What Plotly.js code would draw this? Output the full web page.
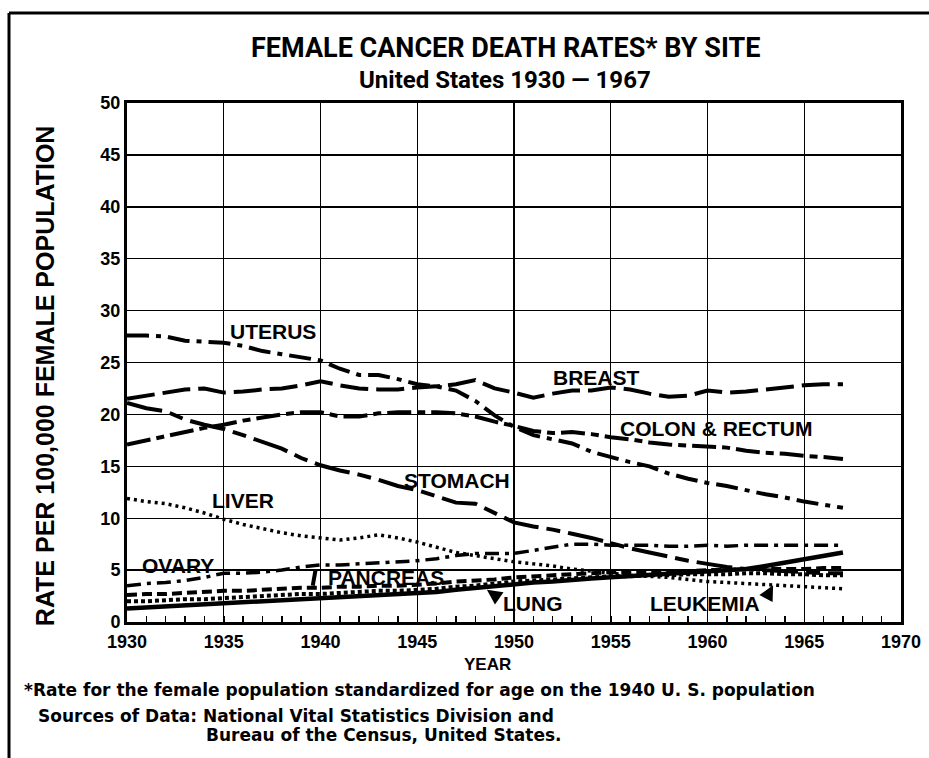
<!DOCTYPE html>
<html>
<head>
<meta charset="utf-8">
<script src="https://cdn.plot.ly/plotly-3.0.1.min.js"></script>
<style>html,body{margin:0;padding:0;background:#fff;}#chart{width:929px;height:758px;}</style>
</head>
<body>
<div id="chart"></div>
<script>
// ---------------- data ----------------
const years = [1930,1931,1932,1933,1934,1935,1936,1937,1938,1939,
               1940,1941,1942,1943,1944,1945,1946,1947,1948,1949,
               1950,1951,1952,1953,1954,1955,1956,1957,1958,1959,
               1960,1961,1962,1963,1964,1965,1966,1967];
const uterus   = [27.6,27.6,27.5,27.1,27.0,26.9,26.6,26.1,25.8,25.5,
                  25.2,24.4,23.8,23.8,23.4,22.9,22.7,22.3,21.3,19.9,
                  18.8,18.0,17.6,17.2,16.4,15.9,15.4,15.0,14.3,13.8,
                  13.4,13.1,12.7,12.3,12.0,11.6,11.3,11.0];
const breast   = [21.5,21.8,22.1,22.4,22.5,22.1,22.2,22.4,22.5,22.8,
                  23.2,22.8,22.5,22.4,22.4,22.6,22.7,22.9,23.3,22.5,
                  22.1,21.6,22.0,22.3,22.3,22.6,22.4,22.0,21.7,21.8,
                  22.3,22.1,22.2,22.4,22.6,22.8,22.9,22.9];
const colon    = [17.1,17.5,17.9,18.3,18.7,19.0,19.4,19.7,20.0,20.2,
                  20.2,19.8,19.8,20.1,20.2,20.2,20.2,20.1,19.8,19.3,
                  18.9,18.4,18.2,18.3,18.1,17.8,17.6,17.3,17.1,17.0,
                  16.9,16.8,16.5,16.3,16.2,16.0,15.9,15.7];
const stomach  = [21.1,20.6,20.3,19.5,19.0,18.6,18.0,17.4,16.7,15.8,
                  15.1,14.6,14.2,13.7,13.1,12.7,12.1,11.5,11.4,10.5,
                  9.6,9.2,8.9,8.5,8.1,7.6,7.1,6.7,6.3,5.9,
                  5.6,5.3,5.1,5.0,4.9,4.8,4.7,4.7];
const liver    = [11.9,11.6,11.4,11.0,10.5,9.9,9.4,9.0,8.6,8.3,
                  8.1,7.9,8.1,8.4,8.1,7.7,7.2,6.7,6.4,6.1,
                  5.8,5.6,5.4,5.1,4.9,4.7,4.5,4.4,4.3,4.1,
                  3.9,3.8,3.7,3.6,3.5,3.4,3.3,3.2];
const ovary    = [3.5,3.7,3.8,4.0,4.3,4.7,4.7,4.8,5.0,5.3,
                  5.5,5.5,5.6,5.7,5.8,5.9,6.1,6.4,6.6,6.6,
                  6.6,6.9,7.2,7.5,7.5,7.4,7.4,7.4,7.3,7.3,
                  7.4,7.3,7.4,7.4,7.4,7.4,7.4,7.4];
const pancreas = [2.6,2.7,2.7,2.8,2.9,3.0,3.0,3.1,3.2,3.3,
                  3.3,3.4,3.4,3.5,3.5,3.6,3.7,3.9,4.0,4.1,
                  4.3,4.4,4.5,4.6,4.7,4.8,4.8,4.8,4.9,4.9,
                  5.0,5.0,5.1,5.1,5.1,5.1,5.2,5.2];
const lung     = [1.3,1.4,1.5,1.5,1.6,1.7,1.9,2.0,2.1,2.1,
                  2.2,2.3,2.4,2.5,2.6,2.8,2.9,3.1,3.3,3.5,
                  3.7,3.8,3.9,4.1,4.2,4.3,4.4,4.5,4.6,4.7,
                  4.8,4.9,5.1,5.4,5.7,6.0,6.4,6.7];
const leukemia = [2.0,2.0,2.1,2.2,2.2,2.3,2.4,2.5,2.6,2.7,
                  2.7,2.8,2.9,3.0,3.0,3.1,3.2,3.4,3.5,3.7,
                  3.9,4.0,4.1,4.2,4.3,4.4,4.4,4.5,4.5,4.6,
                  4.6,4.6,4.7,4.7,4.6,4.6,4.5,4.5];
const xTicks = [1930,1935,1940,1945,1950,1955,1960,1965,1970];
const yTicks = [0,5,10,15,20,25,30,35,40,45,50];

// ---------------- styling ----------------
const BOLD = 'Liberation Sans, Arial, sans-serif';
const TITLEF = 'Roboto, Liberation Sans, Arial, sans-serif';
const WIDE = 'DejaVu Sans, Liberation Sans, Arial, sans-serif';

function line(y, name, dash, width) {
  return {x: years, y: y, name: name, type: 'scatter', mode: 'lines',
          line: {color: '#000', width: width, dash: dash}, hoverinfo: 'skip'};
}
const traces = [
  line(liver,    'Liver',          '3px,4px', 3.5),
  line(leukemia, 'Leukemia',       '4px,3px', 4),
  line(pancreas, 'Pancreas',       '10px,5px', 4),
  line(lung,     'Lung',           'solid', 4.5),
  line(ovary,    'Ovary',          '14px,6px,4px,6px', 3.5),
  line(stomach,  'Stomach',        '36px,8px,14px,8px', 4),
  line(colon,    'Colon & Rectum', '24px,6px,8px,6px', 4),
  line(breast,   'Breast',         '28px,8px', 4),
  line(uterus,   'Uterus',         '22px,7px,5px,7px', 4)
];

// plot area in pixels
const L = 127, R = 901, T = 103, B = 621.7;
const px = v => (v - L) / (R - L);
const py = v => (B - v) / (B - T);

function txt(text, xp, yp, size, family, extra) {
  return Object.assign({text: text, xref: 'paper', yref: 'paper', x: px(xp), y: py(yp),
    xanchor: 'center', yanchor: 'middle', showarrow: false,
    font: {family: family, size: size, color: '#000', weight: 700}}, extra || {});
}
function lab(text, xv, yv) {
  return {text: text, xref: 'x', yref: 'y', x: xv, y: yv, xanchor: 'center', yanchor: 'middle',
    showarrow: false, font: {family: BOLD, size: 21, color: '#000', weight: 700}};
}
function arrow(xv, yv, ax, ay, head, w) {
  return {text: '', xref: 'x', yref: 'y', x: xv, y: yv, ax: ax, ay: ay, showarrow: true,
    arrowhead: head, arrowsize: 1, arrowwidth: w, arrowcolor: '#000'};
}

const annotations = [
  txt('FEMALE CANCER DEATH RATES* BY SITE', 505, 48, 27, TITLEF),
  txt('United States 1930 \u2014 1967', 505, 80, 24, TITLEF),
  txt('RATE PER 100,000 FEMALE POPULATION', 45, 376, 25, BOLD, {textangle: -90}),
  txt('YEAR', 487, 664, 17, BOLD),
  txt('*Rate for the female population standardized for age on the 1940 U. S. population', 22, 690, 17, WIDE, {xanchor: 'left'}),
  txt('Sources of Data: National Vital Statistics Division and', 36, 716, 17, WIDE, {xanchor: 'left'}),
  txt('Bureau of the Census, United States.', 204, 735, 17, WIDE, {xanchor: 'left'}),
  lab('UTERUS', 1937.57, 28.0),
  lab('BREAST', 1954.26, 23.6),
  lab('COLON &amp; RECTUM', 1960.49, 18.67),
  lab('STOMACH', 1947.03, 13.66),
  lab('LIVER', 1936.02, 11.73),
  lab('OVARY', 1932.61, 5.48),
  lab('PANCREAS', 1943.41, 4.32),
  lab('LUNG', 1950.98, 1.8),
  lab('LEUKEMIA', 1959.87, 1.8),
  arrow(1939.6, 3.5, 3, -17, 0, 4),
  arrow(1948.6, 3.1, 13, 9, 2, 3),
  arrow(1963.39, 3.53, -7, 13, 2, 3)
];

const shapes = [
  {type: 'line', xref: 'paper', yref: 'paper', x0: px(9), x1: px(929), y0: py(13), y1: py(13),
   line: {color: '#000', width: 3}},
  {type: 'line', xref: 'paper', yref: 'paper', x0: px(9), x1: px(9), y0: py(13), y1: py(758),
   line: {color: '#000', width: 3}}
];

const layout = {
  width: 929, height: 758,
  margin: {l: L, r: 929 - R, t: T, b: 758 - B, pad: 0},
  paper_bgcolor: '#fff', plot_bgcolor: '#fff',
  showlegend: false,
  xaxis: {
    range: [1930, 1970], tickvals: xTicks, ticktext: xTicks.map(String),
    showgrid: true, gridcolor: '#000', gridwidth: 1.4,
    showline: true, linecolor: '#000', linewidth: 3, mirror: true,
    ticks: 'inside', ticklen: 6, tickwidth: 1.5, tickcolor: '#000',
    minor: {dtick: 1, tick0: 1930, ticks: 'inside', ticklen: 6, tickwidth: 1.5, tickcolor: '#000', showgrid: false},
    zeroline: false, ticklabelstandoff: 1,
    tickfont: {family: BOLD, size: 18, color: '#000', weight: 700}
  },
  yaxis: {
    range: [0, 50], tickvals: yTicks, ticktext: yTicks.map(String),
    showgrid: true, gridcolor: '#000', gridwidth: 1.4,
    showline: true, linecolor: '#000', linewidth: 3, mirror: true,
    ticks: '', zeroline: false,
    tickfont: {family: BOLD, size: 18, color: '#000', weight: 700}
  },
  annotations: annotations,
  shapes: shapes
};

Plotly.newPlot('chart', traces, layout, {staticPlot: true, displayModeBar: false});
</script>
</body>
</html>
